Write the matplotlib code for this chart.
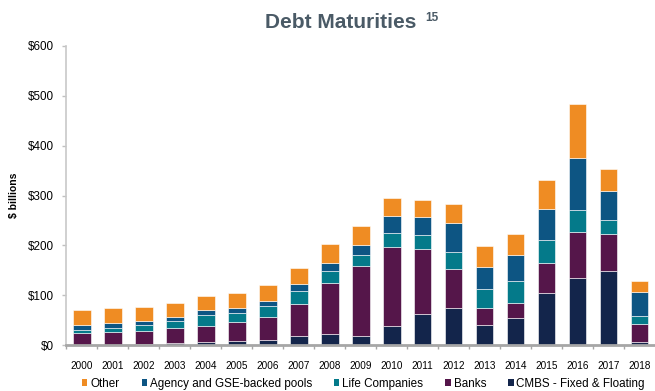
import matplotlib.pyplot as plt
import numpy as np
from matplotlib.patches import Patch

plt.rcParams['font.family'] = ['Liberation Sans', 'DejaVu Sans']

years = [str(y) for y in range(2000, 2019)]
cmbs = [1, 1, 3, 4, 6, 8, 10, 18, 22, 18, 38, 62, 74, 40, 54, 104, 134, 148, 6]
banks = [23, 25, 25, 30, 33.5, 38, 46, 65.5, 103.5, 141.5, 159.5, 130, 79.5, 34.5, 31, 61.5, 93, 74.5, 37]
life = [6.5, 9, 13, 14, 20.5, 18, 22, 25, 23.5, 20.5, 26.5, 29, 32.5, 38.5, 43.5, 44.5, 43.5, 28.5, 15]
agency = [9.5, 9, 7, 8.5, 11, 11.5, 11, 13.5, 16.5, 21, 35.5, 35, 58.5, 44.5, 51.5, 62.5, 104, 58.5, 48]
other = [31, 30.5, 29, 28.5, 27.5, 28.5, 31, 33, 36.5, 37, 36, 35.5, 38, 40.5, 42, 59.5, 108, 44.5, 22]

series = [
    ('CMBS - Fixed & Floating', cmbs, '#13254b'),
    ('Banks', banks, '#55164a'),
    ('Life Companies', life, '#047a8a'),
    ('Agency and GSE-backed pools', agency, '#0d5583'),
    ('Other', other, '#ef8c23'),
]

fig = plt.figure(figsize=(6.55, 3.91), dpi=100)
ax = fig.add_axes([0.1008, 0.1166, 0.8992, 0.7668])

x = np.arange(len(years))
bottom = np.zeros(len(years))
for name, vals, col in series:
    ax.bar(x, vals, width=0.58, bottom=bottom, color=col,
           edgecolor='#ffffff', linewidth=0.4, zorder=2)
    bottom += np.array(vals)

ax.set_xlim(-0.5, 18.5)
ax.set_ylim(0, 600)
ax.set_yticks(range(0, 601, 100))
ax.set_yticklabels(['$%d' % v for v in range(0, 601, 100)], fontsize=8.4)
ax.set_xticks(x)
ax.set_xticklabels(years, fontsize=7.2)
ax.set_xticks(np.arange(-0.5, 18.5, 1), minor=True)
ax.tick_params(axis='x', which='major', length=0, pad=11)
ax.tick_params(axis='x', which='minor', length=3, color='#a6a6a6', width=1)
ax.tick_params(axis='y', length=3, color='#c0c0c0', width=1, pad=6)

for s in ['top', 'right']:
    ax.spines[s].set_visible(False)
ax.spines['left'].set_color('#c8c8c8')
ax.spines['left'].set_linewidth(1.2)
ax.spines['bottom'].set_color('#a6a6a6')
ax.spines['bottom'].set_linewidth(2)

ax.set_ylabel('$ billions', fontsize=7.5, fontweight='bold', labelpad=6)

fig.text(0.52, 0.942, 'Debt Maturities', fontsize=15, fontweight='bold',
         color='#4a5a66', ha='center', va='center')
fig.text(0.650, 0.955, '15', fontsize=8.5, fontweight='bold',
         color='#4a5a66', ha='left', va='center')

handles = [Patch(facecolor=c, label=n) for n, v, c in series[::-1]]
fig.legend(handles=handles, loc='center', bbox_to_anchor=(0.555, 0.019),
           ncol=5, frameon=False, fontsize=8.4, handlelength=0.45,
           handleheight=0.45, handletextpad=0.25, columnspacing=1.9,
           borderpad=0)

plt.savefig('out.png', dpi=100)
